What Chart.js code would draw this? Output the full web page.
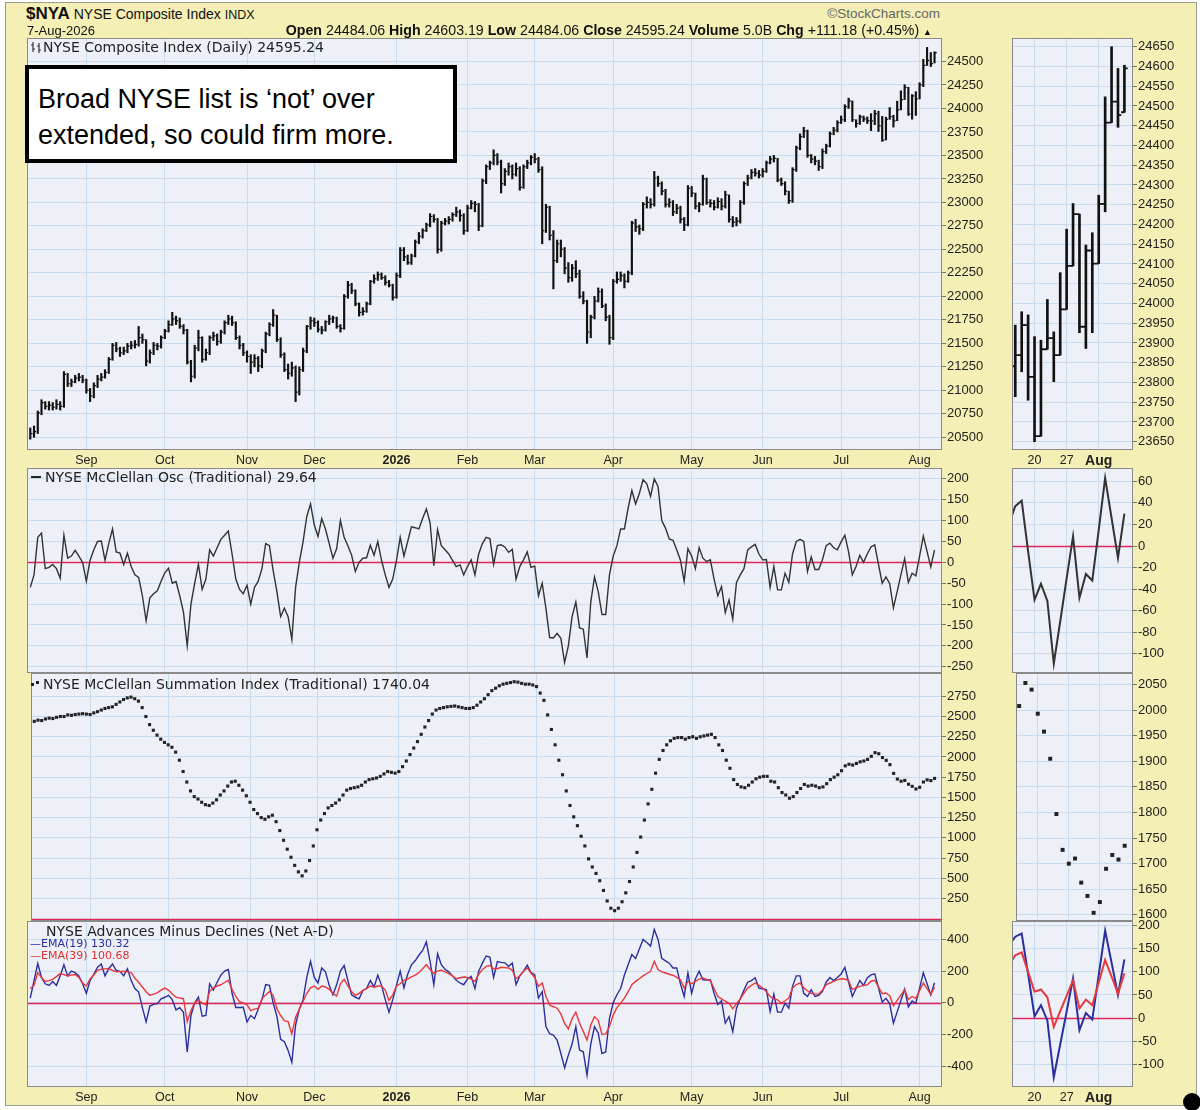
<!DOCTYPE html>
<html><head><meta charset="utf-8"><title>$NYA NYSE Composite Index</title>
<script src="https://cdn.jsdelivr.net/npm/chart.js@4.4.1/dist/chart.umd.min.js"></script>
<style>
html,body{margin:0;padding:0;}
body{width:1200px;height:1110px;position:relative;overflow:hidden;background:#fff;font-family:"Liberation Sans",Arial,sans-serif;color:#111;}
#frame{position:absolute;left:5px;top:2px;width:1190px;height:1102px;background:#f4efb4;border:1px solid #9c9c90;z-index:0;}
canvas{position:absolute;z-index:1;}
.t{position:absolute;white-space:nowrap;line-height:1;z-index:5;}
.lg{font-family:"DejaVu Sans",Verdana,sans-serif;font-size:14px;color:#222;}
#note{position:absolute;left:25px;top:65px;width:432px;height:98px;box-sizing:border-box;border:4px solid #000;background:#fff;padding:12px 0 0 9px;font-family:"Liberation Sans",Arial,sans-serif;font-size:27px;line-height:36px;color:#000;z-index:6;white-space:nowrap;}
#dot{position:absolute;left:1183px;top:1093px;width:18px;height:18px;border-radius:50%;background:#000;z-index:7;}
</style></head>
<body>
<div id="frame"></div>

<div class="t" style="left:26px;top:5px;"><b style="font-size:17px;">$NYA</b><span style="font-size:14px;"> NYSE Composite Index </span><span style="font-size:12.5px;">INDX</span></div>
<div class="t" style="left:27px;top:24px;font-size:13px;">7-Aug-2026</div>
<div class="t" style="right:268px;top:23px;font-size:14.2px;"><b>Open</b> 24484.06 <b>High</b> 24603.19 <b>Low</b> 24484.06 <b>Close</b> 24595.24 <b>Volume</b> 5.0B <b>Chg</b> +111.18 (+0.45%) <span style="font-size:9px;">&#9650;</span></div>
<div class="t" style="right:260px;top:7px;font-size:13.5px;color:#666;">&copy;StockCharts.com</div>

<div class="t lg" style="left:31px;top:40px;"><svg width="12" height="12" style="vertical-align:-1px"><path d="M2 1V11M0 4H2M2 8H4M8 2V12M6 5H8M8 9H10" stroke="#333" stroke-width="1.2" fill="none"/></svg>NYSE Composite Index (Daily) 24595.24</div>
<div class="t lg" style="left:31px;top:470px;"><span style="display:inline-block;width:10px;height:2px;background:#222;vertical-align:4px;margin-right:4px;"></span>NYSE McClellan Osc (Traditional) 29.64</div>
<div class="t lg" style="left:31px;top:677px;"><span style="display:inline-block;width:3px;height:3px;background:#222;vertical-align:3px;margin-right:2px;"></span><span style="display:inline-block;width:3px;height:3px;background:#222;vertical-align:5px;margin-right:4px;"></span>NYSE McClellan Summation Index (Traditional) 1740.04</div>
<div class="t lg" style="left:46px;top:924px;">NYSE Advances Minus Declines (Net A-D)</div>
<div class="t lg" style="left:30px;top:938px;font-size:11px;color:#2b2f9e;">&#8212;EMA(19) 130.32</div>
<div class="t lg" style="left:30px;top:950px;font-size:11px;color:#e0302f;">&#8212;EMA(39) 100.68</div>

<div id="note">Broad NYSE list is &#8216;not&#8217; over<br>extended, so could firm more.</div>
<div id="dot"></div>

<script>
// ================= DATA =================
const monthTickIdx = [15,36,58,76,98,117,135,156,177,196,217,238];
const monthTickLbl = ['Sep','Oct','Nov','Dec','2026','Feb','Mar','Apr','May','Jun','Jul','Aug'];
const sideTickIdx  = [3,8,13];
const sideTickLbl  = ['20','27','Aug'];
const sideFirst = 225;   // first daily bar shown in the right-hand zoom panels

const priceHigh = [
20600,20620,20780,20900,20880,20880,20870,20900,20880,21200,
21180,21120,21160,21180,21160,21120,21020,21080,21160,21180,
21220,21350,21500,21510,21460,21460,21500,21520,21530,21680,
21600,21540,21430,21510,21500,21580,21650,21740,21830,21790,
21770,21700,21650,21320,21480,21640,21570,21440,21580,21620,
21600,21640,21740,21800,21790,21730,21580,21500,21420,21380,
21380,21360,21440,21620,21720,21860,21800,21560,21400,21280,
21300,21260,21250,21450,21690,21780,21770,21740,21680,21740,
21800,21790,21780,21700,22020,22160,22140,22070,21930,21880,
21940,22170,22230,22260,22250,22220,22170,22130,22250,22520,
22520,22440,22450,22600,22680,22720,22780,22880,22870,22830,
22800,22830,22850,22890,22950,22920,22880,22970,23020,23010,
22990,23250,23400,23440,23560,23520,23450,23360,23420,23400,
23420,23380,23400,23450,23500,23520,23480,23380,22980,22960,
22700,22600,22600,22520,22360,22340,22380,22280,22050,21960,
21800,22000,22090,22080,21920,21800,22180,22260,22260,22240,
22270,22800,22820,22760,23000,23060,23040,23330,23280,23220,
23140,23040,23020,22980,22960,22840,23180,23170,23100,23000,
23290,23260,23030,23020,23050,23040,23120,23080,22850,22840,
23020,23220,23290,23350,23360,23340,23360,23440,23490,23500,
23470,23260,23220,23120,23370,23600,23730,23800,23770,23510,
23490,23450,23570,23620,23750,23800,23870,23920,24040,24110,
24080,23880,23930,23920,23910,23945,23979,23971,23916,23907,
24010,23928,24078,24188,24253,24226,24148,24179,24274,24523,
24650,24595,24603];

const priceLow = [
20480,20500,20540,20740,20800,20790,20790,20800,20790,20820,
21040,21040,21080,21100,21080,20970,20880,20920,21030,21100,
21130,21180,21320,21410,21360,21380,21400,21440,21450,21470,
21500,21260,21290,21380,21430,21450,21550,21620,21690,21700,
21660,21600,21280,21090,21130,21420,21300,21320,21380,21530,
21480,21500,21600,21700,21690,21540,21440,21370,21300,21180,
21250,21200,21240,21400,21580,21680,21520,21350,21200,21120,
21150,20880,20950,21200,21400,21650,21680,21620,21600,21630,
21700,21720,21660,21620,21650,21980,22030,21900,21790,21800,
21830,21910,22140,22170,22180,22120,22100,21960,21980,22200,
22380,22340,22340,22420,22560,22620,22690,22740,22790,22460,
22480,22760,22770,22800,22850,22800,22660,22690,22930,22900,
22700,22740,23200,23350,23400,23400,23100,23180,23290,23250,
23280,23130,23150,23360,23400,23420,23320,22560,22680,22600,
22080,22360,22420,22240,22150,22160,22200,21980,21920,21500,
21560,21760,21940,21880,21740,21490,21540,22140,22160,22090,
22150,22230,22690,22660,22700,22940,22940,22960,23170,23080,
22950,22950,22860,22880,22780,22700,22750,23060,22930,22900,
22970,22980,22950,22920,22940,22920,22940,22790,22740,22750,
22780,22980,23180,23250,23280,23260,23270,23320,23410,23430,
23220,23180,23080,22990,23000,23330,23560,23690,23480,23420,
23400,23340,23360,23520,23590,23720,23750,23840,23860,24000,
23860,23800,23830,23860,23840,23764,23827,23755,23650,23664,
23884,23802,23869,23985,24095,23926,23886,23926,24101,24232,
24458,24446,24484];

const priceClose = [
20540,20560,20760,20870,20830,20840,20820,20850,20830,21170,
21070,21090,21130,21140,21110,21000,20940,21050,21120,21140,
21190,21330,21480,21440,21400,21420,21470,21480,21490,21560,
21540,21310,21400,21480,21470,21560,21630,21700,21760,21740,
21680,21640,21300,21150,21450,21560,21330,21400,21560,21580,
21520,21620,21720,21760,21720,21560,21480,21400,21360,21300,
21340,21260,21420,21600,21700,21800,21540,21380,21220,21180,
21240,20980,21220,21420,21680,21740,21720,21650,21640,21730,
21760,21770,21680,21660,22000,22120,22060,21920,21830,21840,
21920,22160,22190,22230,22200,22150,22120,21990,22220,22490,
22420,22360,22430,22580,22640,22700,22760,22850,22820,22500,
22780,22800,22820,22870,22900,22860,22700,22940,22990,22980,
22750,23230,23380,23420,23500,23430,23200,23330,23380,23300,
23360,23160,23380,23420,23480,23460,23350,22700,22950,22650,
22380,22560,22500,22300,22200,22300,22240,22000,21950,21620,
21780,21950,22050,21900,21780,21560,22160,22180,22220,22160,
22250,22780,22740,22720,22980,23000,22980,23260,23200,23120,
22980,23000,22900,22940,22820,22760,23150,23100,22960,22980,
23250,23000,22990,22950,23010,22960,23080,22820,22790,22800,
23000,23200,23260,23320,23310,23290,23330,23420,23460,23470,
23240,23200,23120,23020,23350,23580,23700,23760,23500,23460,
23440,23380,23540,23600,23730,23770,23850,23880,24020,24080,
23880,23840,23910,23890,23870,23869,23945,23814,23664,23884,
23912,23869,23985,24095,24226,23941,24134,24101,24252,24458,
24511,24477,24595];

// opens of the 18 bars in the zoom panel (15-Jul .. 7-Aug)
const sideOpen = [23841,23869,23945,23814,23664,23884,23912,23869,23985,24095,24226,23941,24134,24101,24252,24458,24511,24484];

const mcOsc = [
-60,-30,60,70,-15,-12,-5,-15,-38,65,
10,15,29,15,0,-45,5,30,50,51,
5,45,80,25,22,-5,22,-10,-30,-36,
-80,-140,-85,-75,-68,-45,-25,-14,-50,-46,
-80,-120,-200,-100,-50,-5,-65,-40,30,15,
35,55,65,75,20,-40,-65,-75,-55,-100,
-60,-45,-15,45,40,-20,-70,-130,-110,-130,
-185,-60,0,49,110,140,90,62,105,80,
45,10,33,100,60,40,17,-22,0,10,
11,41,17,50,5,-30,-60,-40,5,60,
15,50,85,83,80,105,128,95,-8,78,
40,30,20,5,-10,-6,-30,-10,6,-30,
20,45,60,57,-5,40,42,37,24,31,
-40,-10,6,25,-12,-9,-80,-50,-110,-180,
-181,-170,-182,-240,-200,-130,-95,-157,-160,-229,
-95,-35,-70,-125,-125,-30,15,40,80,80,
130,172,140,165,198,188,158,200,182,100,
82,56,53,30,5,-45,33,15,-15,35,
10,2,6,-40,-80,-58,-120,-90,-136,-48,
-30,-15,30,37,43,20,6,7,-60,-10,
-66,-66,-26,-48,20,50,55,50,-22,13,
-17,-17,6,40,46,35,30,49,65,25,
-30,-10,17,0,20,37,42,-5,-50,-35,
-51,-109,-70,-30,9,-48,-26,-32,15,63,
26,-11,30];

const mcSum = [
2440,2455,2450,2470,2480,2475,2490,2500,2500,2520,
2515,2525,2530,2535,2530,2525,2545,2560,2580,2600,
2610,2620,2650,2680,2710,2730,2740,2720,2690,2610,
2500,2400,2330,2270,2220,2180,2150,2120,2060,1960,
1820,1690,1580,1510,1480,1440,1410,1400,1430,1470,
1530,1580,1640,1690,1700,1650,1590,1520,1440,1350,
1300,1250,1230,1260,1280,1200,1090,970,860,760,
660,580,530,590,720,900,1100,1220,1300,1370,
1400,1430,1470,1530,1590,1610,1620,1630,1650,1690,
1720,1730,1740,1760,1790,1820,1810,1800,1820,1880,
1950,2030,2110,2190,2280,2370,2450,2530,2580,2600,
2610,2620,2625,2630,2620,2610,2600,2600,2610,2640,
2680,2720,2770,2820,2850,2880,2900,2910,2920,2930,
2925,2910,2900,2900,2890,2870,2790,2700,2520,2340,
2150,1960,1780,1580,1400,1260,1150,1020,900,740,
640,560,470,350,220,130,100,130,210,320,
460,640,820,1010,1220,1420,1600,1800,1970,2080,
2150,2200,2230,2240,2240,2220,2240,2250,2230,2250,
2260,2270,2280,2240,2150,2080,1960,1860,1720,1660,
1630,1620,1650,1690,1730,1750,1760,1760,1700,1690,
1620,1560,1530,1490,1510,1560,1610,1660,1640,1650,
1640,1620,1630,1670,1720,1750,1780,1830,1890,1910,
1900,1920,1940,1950,1970,2008,2053,2040,1993,1958,
1905,1797,1727,1700,1710,1663,1637,1604,1625,1690,
1717,1708,1735];

const adEma19 = [
30,140,248,160,120,110,135,110,170,240,
170,200,190,170,120,60,140,180,225,245,
170,215,245,205,198,170,215,140,90,68,
-30,-120,-20,-10,-5,25,35,47,20,-45,
-30,-60,-310,-80,0,36,-85,-80,120,80,
130,175,200,210,60,-30,-30,-28,-120,-80,
-100,-40,20,115,110,0,-85,-230,-245,-300,
-375,-140,-40,20,160,262,160,125,220,195,
110,50,115,200,235,140,50,35,25,78,
90,140,100,175,110,20,-60,20,110,200,
95,180,240,265,300,330,385,260,114,310,
240,212,195,170,142,125,114,150,167,90,
200,250,295,288,160,260,255,252,230,250,
115,170,200,237,190,178,30,70,-150,-195,
-203,-235,-320,-410,-330,-260,-150,-298,-309,-457,
-260,-150,-190,-320,-310,-100,0,51,90,175,
240,305,280,340,400,380,358,463,400,280,
265,250,220,220,120,40,188,60,150,200,
145,143,146,60,-10,13,-129,-87,-182,-34,
25,80,130,140,158,93,88,83,-55,55,
-59,-59,-2,-34,104,170,170,60,40,83,
40,47,72,130,160,140,160,182,224,131,
40,90,140,110,157,176,183,95,4,28,
-5,-128,-57,14,86,-26,11,-3,93,189,
120,50,127];

const adEma39 = [
90,110,190,160,135,140,148,165,184,178,
169,175,178,160,125,106,150,175,205,212,
214,216,205,195,197,199,195,190,155,130,
100,70,47,55,63,80,93,80,55,36,
30,25,-119,-49,0,15,0,-13,72,95,
106,114,128,142,85,40,8,0,-13,-49,
-40,-34,25,50,72,47,-38,-80,-112,-119,
-197,-91,-40,8,60,95,106,85,106,100,
85,60,42,120,148,106,70,47,60,78,
90,106,100,106,106,80,15,50,106,120,
142,150,163,175,190,215,241,210,184,200,
205,195,184,170,152,158,163,160,150,135,
180,210,230,235,215,215,224,222,220,205,
152,170,199,220,188,160,104,125,40,-13,
-25,-34,-70,-130,-165,-100,-59,-129,-180,-235,
-140,-87,-110,-199,-196,-150,-76,-30,-2,30,
70,114,135,152,170,185,199,262,210,195,
188,180,174,160,146,93,135,120,135,150,
157,148,140,90,40,25,10,-2,-38,-5,
25,60,93,110,125,110,93,70,40,25,
19,-2,13,30,93,115,125,95,76,60,
55,55,80,114,125,135,145,152,150,140,
83,95,104,110,114,136,142,100,57,62,
45,-19,15,48,82,21,40,28,77,126,
90,53,97];

const priceTicks     = [20500,20750,21000,21250,21500,21750,22000,22250,22500,22750,23000,23250,23500,23750,24000,24250,24500];
const sidePriceTicks = [23650,23700,23750,23800,23850,23900,23950,24000,24050,24100,24150,24200,24250,24300,24350,24400,24450,24500,24550,24600,24650];
const oscTicks       = [-250,-200,-150,-100,-50,0,50,100,150,200];
const sideOscTicks   = [-100,-80,-60,-40,-20,0,20,40,60];
const sumTicks       = [250,500,750,1000,1250,1500,1750,2000,2250,2500,2750];
const sideSumTicks   = [1600,1650,1700,1750,1800,1850,1900,1950,2000,2050];
const adTicks        = [-400,-200,0,200,400];
const sideAdTicks    = [-100,-50,0,50,100,150,200];

// ================= STYLE / HELPERS =================
const PLOT_BG='#eef0f8', GRID='#c7dcee', FRAME='#8a8a8a', ZERO='#e0245a';
const OSC_COL='#333333', BLUE='#2b2f9e', RED='#e8383d';

const bgPlugin={id:'plotBg',beforeDraw(c){const a=c.chartArea,x=c.ctx;x.save();x.fillStyle=PLOT_BG;x.fillRect(a.left,a.top,a.right-a.left,a.bottom-a.top);x.restore();}};
const framePlugin={id:'frameBox',afterDraw(c){const a=c.chartArea,x=c.ctx;x.save();x.strokeStyle=FRAME;x.lineWidth=1;x.strokeRect(Math.round(a.left)+0.5,Math.round(a.top)+0.5,Math.round(a.right-a.left)-1,Math.round(a.bottom-a.top)-1);x.restore();}};
const zeroPlugin={id:'zeroLine',beforeDatasetsDraw(c){const y=c.scales.y,a=c.chartArea;if(0<y.min||0>y.max)return;const py=Math.round(y.getPixelForValue(0))+0.5;const x=c.ctx;x.save();x.strokeStyle=ZERO;x.lineWidth=1.6;x.beginPath();x.moveTo(a.left,py);x.lineTo(a.right,py);x.stroke();x.restore();}};
function ohlcTicks(xOffset,from,opens,w,lw){
  return {id:'ohlcTicks',afterDatasetsDraw(c){
    const xs=c.scales.x,ys=c.scales.y,ctx=c.ctx,a=c.chartArea;
    ctx.save();ctx.beginPath();ctx.rect(a.left,a.top,a.right-a.left,a.bottom-a.top);ctx.clip();
    ctx.strokeStyle='#111';ctx.lineWidth=lw;ctx.beginPath();
    for(let i=from;i<priceClose.length;i++){
      const px=xs.getPixelForValue(i-xOffset);
      const pc=ys.getPixelForValue(priceClose[i]);
      ctx.moveTo(px,pc);ctx.lineTo(px+w,pc);
      if(opens){const po=ys.getPixelForValue(opens[i-from]);ctx.moveTo(px-w,po);ctx.lineTo(px,po);}
    }
    ctx.stroke();ctx.restore();
  }};
}

function makePanel(o){
  const pad=12, xh=o.xLabels?18:0;
  const W=o.pw+o.aw, H=pad+o.ph+xh+pad;
  const cv=document.createElement('canvas');
  cv.width=W;cv.height=H;
  cv.style.left=o.left+'px';cv.style.top=(o.top-pad)+'px';
  cv.style.width=W+'px';cv.style.height=H+'px';
  document.body.appendChild(cv);
  const lblMap={};
  o.xTicks.forEach((v,k)=>{lblMap[v]=o.xLabels?o.xLabels[k]:'';});
  return new Chart(cv,{
    type:o.type||'line',
    data:{datasets:o.datasets},
    options:{
      responsive:false,maintainAspectRatio:false,animation:false,events:[],
      layout:{padding:{top:pad,bottom:pad,left:0,right:0}},
      plugins:{legend:{display:false},tooltip:{enabled:false}},
      scales:{
        x:{type:'linear',min:o.xmin,max:o.xmax,offset:false,
          border:{display:false},
          grid:{color:GRID,lineWidth:1,drawTicks:false,offset:false},
          afterBuildTicks(s){s.ticks=o.xTicks.map(v=>({value:v}));},
          afterFit(s){s.height=xh;s.paddingLeft=0;s.paddingRight=0;},
          ticks:{display:!!o.xLabels,autoSkip:false,maxRotation:0,minRotation:0,padding:3,color:'#222',
            font:(ctx)=>{const b=ctx.tick&&ctx.tick.label===o.boldLabel;return {family:'Liberation Sans',size:b?(o.boldSize||12.5):12.5,weight:b?'bold':'normal'};},
            callback:(v)=>lblMap[v]}
        },
        y:{type:'linear',position:'right',min:o.ymin,max:o.ymax,
          border:{display:false},
          grid:{color:GRID,lineWidth:1,drawTicks:true,tickLength:4,tickColor:'#777'},
          afterBuildTicks(s){s.ticks=o.yTicks.map(v=>({value:v}));},
          afterFit(s){s.width=o.aw;s.paddingTop=0;s.paddingBottom=0;},
          ticks:{autoSkip:false,padding:1,color:'#222',font:{family:'Liberation Sans',size:13},callback:(v)=>String(v)}
        }
      }
    },
    plugins:[bgPlugin,zeroPlugin,framePlugin].concat(o.plugins||[])
  });
}

const pts=(arr,off,from)=>arr.slice(from||0).map((v,k)=>({x:k+(from||0)-(off||0),y:v}));

// ================= MAIN (left) COLUMN =================
const MX={left:27,pw:915,aw:52,xmin:-0.88,xmax:244.0,xTicks:monthTickIdx};
makePanel(Object.assign({},MX,{top:38,ph:412,ymin:20365,ymax:24750,yTicks:priceTicks,
  xLabels:monthTickLbl,boldLabel:'2026',type:'bar',
  datasets:[{type:'bar',data:priceHigh.map((h,i)=>({x:i,y:[priceLow[i],h]})),backgroundColor:'#111',barThickness:1.5,grouped:false}],
  plugins:[ohlcTicks(0,0,null,2.2,1.2)]}));
makePanel(Object.assign({},MX,{top:468,ph:205,ymin:-265,ymax:226,yTicks:oscTicks,
  datasets:[{data:pts(mcOsc),borderColor:OSC_COL,borderWidth:1.4,pointRadius:0,tension:0}]}));
makePanel(Object.assign({},MX,{top:673,ph:248,ymin:-28,ymax:3038,yTicks:sumTicks,
  datasets:[{data:pts(mcSum),showLine:false,pointStyle:'rect',pointRadius:2.2,pointBackgroundColor:'#222',pointBorderWidth:0}]}));
makePanel(Object.assign({},MX,{top:921,ph:166,ymin:-531,ymax:516,yTicks:adTicks,
  xLabels:monthTickLbl,boldLabel:'2026',
  datasets:[
    {data:pts(adEma39),borderColor:RED,borderWidth:1.4,pointRadius:0,tension:0},
    {data:pts(adEma19),borderColor:BLUE,borderWidth:1.4,pointRadius:0,tension:0}]}));

// ================= ZOOM (right) COLUMN =================
const SX={left:1012,pw:121,aw:60,xmin:-0.51,xmax:18.34,xTicks:sideTickIdx};
makePanel(Object.assign({},SX,{top:38,ph:412,ymin:23629,ymax:24672,yTicks:sidePriceTicks,
  xLabels:sideTickLbl,boldLabel:'Aug',boldSize:14,type:'bar',
  datasets:[{type:'bar',data:pts(priceHigh,sideFirst,sideFirst).map((p,k)=>({x:p.x,y:[priceLow[sideFirst+k],p.y]})),backgroundColor:'#111',barThickness:2,grouped:false}],
  plugins:[ohlcTicks(sideFirst,sideFirst,sideOpen,3.3,1.8)]}));
makePanel(Object.assign({},SX,{top:468,ph:205,ymin:-117.8,ymax:72.4,yTicks:sideOscTicks,
  datasets:[{data:pts(mcOsc,sideFirst,sideFirst-2),borderColor:OSC_COL,borderWidth:2,pointRadius:0,tension:0}]}));
makePanel(Object.assign({},SX,{top:673,ph:248,ymin:1588,ymax:2072.5,yTicks:sideSumTicks,
  datasets:[{data:pts(mcSum,sideFirst,sideFirst),showLine:false,pointStyle:'rect',pointRadius:2.8,pointBackgroundColor:'#222',pointBorderWidth:0}]}));
makePanel(Object.assign({},SX,{top:921,ph:166,ymin:-149,ymax:210,yTicks:sideAdTicks,
  xLabels:sideTickLbl,boldLabel:'Aug',boldSize:14,
  datasets:[
    {data:pts(adEma39,sideFirst,sideFirst-2),borderColor:RED,borderWidth:2,pointRadius:0,tension:0},
    {data:pts(adEma19,sideFirst,sideFirst-2),borderColor:BLUE,borderWidth:2,pointRadius:0,tension:0}]}));
</script>
</body></html>
